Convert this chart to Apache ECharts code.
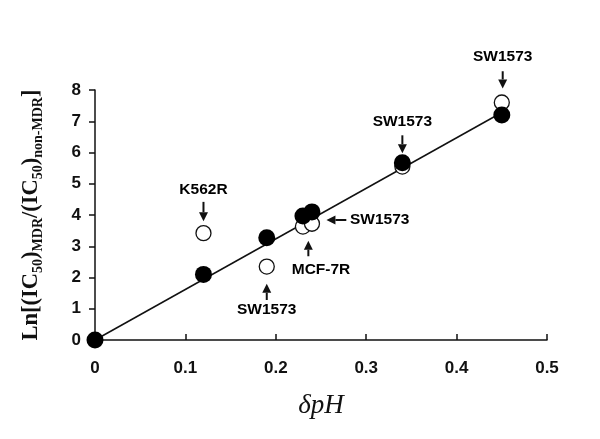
<!DOCTYPE html>
<html><head><meta charset="utf-8">
<script src="https://cdn.jsdelivr.net/npm/echarts@6/dist/echarts.min.js"></script>
<style>html,body{margin:0;padding:0;background:#fff}#c{width:600px;height:439px}</style>
</head><body><div id="c"></div>
<script>
// data
const filledX = [0, 0.12, 0.19, 0.23, 0.24, 0.34, 0.45];
const filledY = [0, 2.1, 3.27, 3.97, 4.1, 5.67, 7.2];
const openX = [0.12, 0.19, 0.23, 0.24, 0.34, 0.45];
const openY = [3.42, 2.35, 3.63, 3.72, 5.55, 7.6];
const fitX = [0, 0.45];
const fitY = [0, 7.28];
const xTicks = [0, 0.1, 0.2, 0.3, 0.4, 0.5];
const yTicks = [0, 1, 2, 3, 4, 5, 6, 7, 8];
// annotations
const annText = ['K562R', 'SW1573', 'MCF-7R', 'SW1573', 'SW1573', 'SW1573'];
const annTextX = [0.12, 0.19, 0.25, 0.282, 0.34, 0.451];
const annTextY = [4.8, 0.98, 2.24, 3.84, 6.99, 9.07];
const arrowFromX = [0.12, 0.19, 0.236, 0.278, 0.34, 0.451];
const arrowFromY = [4.42, 1.28, 2.68, 3.84, 6.55, 8.6];
const arrowToX = [0.12, 0.19, 0.236, 0.256, 0.34, 0.451];
const arrowToY = [3.8, 1.8, 3.18, 3.84, 5.98, 8.05];
const annAlign = ['center', 'center', 'center', 'left', 'center', 'center'];

const chart = echarts.init(document.getElementById('c'));
const zip = (a, b) => a.map((v, i) => [v, b[i]]);
const labelFont = {fontFamily: 'Liberation Sans, Arial, sans-serif', fontWeight: 'bold', fontSize: 15.5, color: '#000', opacity: 1};

chart.setOption({
  animation: false,
  backgroundColor: '#fff',
  grid: {left: 95, right: 53, top: 90, bottom: 99},
  xAxis: {
    type: 'value', min: 0, max: 0.5, interval: 0.1,
    axisLine: {show: true, lineStyle: {color: '#111', width: 1.5}},
    axisTick: {show: true, inside: true, length: 6, lineStyle: {color: '#111', width: 1.5}},
    splitLine: {show: false},
    axisLabel: {margin: 20, fontFamily: 'Liberation Sans, Arial, sans-serif', fontWeight: 'bold', fontSize: 17, color: '#111',
      formatter: v => { const t = xTicks.find(k => Math.abs(k - v) < 1e-9); return t === undefined ? '' : String(t); }},
    name: 'δpH', nameLocation: 'middle', nameGap: 52,
    nameTextStyle: {fontFamily: 'Liberation Serif, Times New Roman, serif', fontStyle: 'italic', fontSize: 27, color: '#111'}
  },
  yAxis: {
    type: 'value', min: 0, max: 8, interval: 1,
    axisLine: {show: true, lineStyle: {color: '#111', width: 1.5}},
    axisTick: {show: true, inside: false, length: 6, lineStyle: {color: '#111', width: 1.5}},
    splitLine: {show: false},
    axisLabel: {margin: 14, fontFamily: 'Liberation Sans, Arial, sans-serif', fontWeight: 'bold', fontSize: 17, color: '#111',
      formatter: v => { const t = yTicks.find(k => Math.abs(k - v) < 1e-9); return t === undefined ? '' : String(t); }},
    name: '{a|Ln[(IC}{s|50}{a|)}{s|MDR}{a|/(IC}{s|50}{a|)}{s|non-MDR}{a|]}',
    nameLocation: 'middle', nameRotate: 90, nameGap: 50,
    nameTextStyle: {
      rich: {
        a: {fontFamily: 'Liberation Serif, Times New Roman, serif', fontWeight: 'bold', fontSize: 22.5, color: '#111', lineHeight: 28},
        s: {fontFamily: 'Liberation Serif, Times New Roman, serif', fontWeight: 'bold', fontSize: 14, color: '#111', verticalAlign: 'bottom', lineHeight: 14, padding: [12, 0, 0, 0]}
      }
    }
  },
  series: [
    {
      type: 'line', data: zip(fitX, fitY), symbol: 'none', z: 2,
      lineStyle: {color: '#111', width: 1.5}
    },
    {
      type: 'scatter', data: zip(openX, openY), symbol: 'circle', symbolSize: 15, z: 3,
      itemStyle: {color: '#fff', borderColor: '#111', borderWidth: 1.3, opacity: 1}
    },
    {
      type: 'scatter', data: zip(filledX, filledY), symbol: 'circle', symbolSize: 17, z: 4,
      itemStyle: {color: '#000', opacity: 1}
    },
    {
      type: 'scatter', clip: false, z: 5, symbolSize: 0, itemStyle: {opacity: 1},
      data: annText.map((t, i) => ({value: [annTextX[i], annTextY[i]], label: {show: true, position: 'inside', formatter: t, align: annAlign[i], ...labelFont}}))
    },
    {
      type: 'custom', clip: false, z: 5,
      data: arrowFromX.map((x, i) => [x, arrowFromY[i], arrowToX[i], arrowToY[i]]),
      renderItem: (params, api) => {
        const p0 = api.coord([api.value(0), api.value(1)]);
        const p1 = api.coord([api.value(2), api.value(3)]);
        const dx = p1[0] - p0[0], dy = p1[1] - p0[1];
        const len = Math.sqrt(dx * dx + dy * dy) || 1;
        const ux = dx / len, uy = dy / len;
        const hl = 9, hw = 4.5;
        const bx = p1[0] - ux * hl, by = p1[1] - uy * hl;
        return {
          type: 'group',
          children: [
            {type: 'line', shape: {x1: p0[0], y1: p0[1], x2: bx, y2: by}, style: {stroke: '#111', lineWidth: 2}},
            {type: 'polygon', shape: {points: [[p1[0], p1[1]], [bx - uy * hw, by + ux * hw], [bx + uy * hw, by - ux * hw]]}, style: {fill: '#111'}}
          ]
        };
      }
    }
  ]
});
</script></body></html>
